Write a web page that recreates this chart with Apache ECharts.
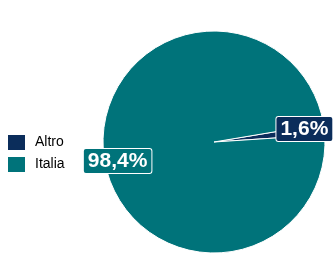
<!DOCTYPE html>
<html>
<head>
<meta charset="utf-8">
<script src="https://cdn.jsdelivr.net/npm/echarts@6/dist/echarts.min.js"></script>
<style>
  html, body { margin: 0; padding: 0; background: #fff; }
  #chart { width: 333px; height: 253px; }
</style>
</head>
<body>
<div id="chart"></div>
<script>
// dati
const categories = ['Altro', 'Italia'];
const values = [1.6, 98.4];
const colors = ['#0b2d5b', '#00737a'];

let chart = echarts.init(document.getElementById('chart'));

let pieData = categories.map(function (name, i) {
  return { name: name, value: values[i], itemStyle: { color: colors[i] } };
});

// spostamento etichette rispetto alla posizione "inside"
const labelOffsets = [[-4, -2], [-2, 8]];

// etichette con virgola decimale
function fmt(p) {
  return String(p.value).replace('.', ',') + '%';
}

let option = {
  animation: false,
  legend: {
    orient: 'vertical',
    left: 1,
    top: 128,
    icon: 'rect',
    itemWidth: 19,
    itemHeight: 17,
    itemGap: 3,
    textStyle: { fontFamily: 'Liberation Sans', fontSize: 14, color: '#000', padding: [0, 0, 0, 4] },
    data: categories
  },
  series: [
    {
      type: 'pie',
      center: [214, 142],
      radius: [0, 111],
      startAngle: 9.5,
      clockwise: true,
      itemStyle: { borderColor: '#fff', borderWidth: 1 },
      label: { show: false },
      labelLine: { show: false },
      emphasis: { disabled: true },
      data: pieData
    },
    {
      // serie trasparente solo per posizionare le etichette
      type: 'pie',
      center: [214, 142],
      radius: [0, 184],
      startAngle: 9.5,
      clockwise: true,
      silent: true,
      itemStyle: { color: 'rgba(0,0,0,0)' },
      labelLine: { show: false },
      emphasis: { disabled: true },
      label: {
        show: true,
        position: 'inside',
        formatter: fmt,
        color: '#fff',
        fontFamily: 'Liberation Sans',
        fontWeight: 'bold',
        fontSize: 21,
        lineHeight: 21,
        padding: [2, 4, 1, 4],
        borderColor: '#fff',
        borderWidth: 1,
        borderRadius: 2
      },
      data: categories.map(function (name, i) {
        return {
          name: name,
          value: values[i],
          label: { backgroundColor: colors[i], offset: labelOffsets[i] }
        };
      })
    }
  ]
};
chart.setOption(option);
</script>
</body>
</html>
